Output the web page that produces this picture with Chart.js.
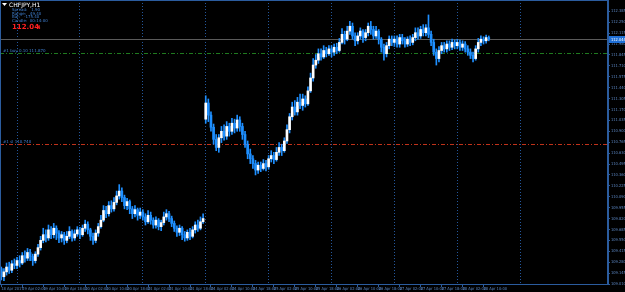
<!DOCTYPE html>
<html><head><meta charset="utf-8">
<script src="https://cdn.jsdelivr.net/npm/chart.js@4/dist/chart.umd.min.js"></script>
<style>html,body{margin:0;padding:0;background:#000;overflow:hidden}canvas{display:block}</style>
</head><body>
<canvas id="c" width="625" height="292"></canvas>
<script>
// ---- data (CHFJPY, H1) ----
const tradingDays = ['18 Apr','19 Apr','20 Apr','21 Apr','24 Apr','25 Apr','26 Apr','27 Apr','28 Apr','29 Apr','30 Apr'];
const firstHour = 18;          // first bar: 18 Apr 18:00
const slotCount = 232;         // bars + empty future area
const gridDays = 9;            // day separators drawn up to 29 Apr
const opens = [109.20,109.10,109.16,109.22,109.18,109.26,
109.24,109.30,109.27,109.36,109.33,109.40,109.35,109.30,109.38,109.46,109.55,109.62,109.58,109.68,109.62,109.70,109.64,109.58,109.62,109.55,109.60,109.66,109.58,109.63,
109.68,109.62,109.70,109.75,109.68,109.60,109.55,109.64,109.72,109.80,109.92,109.88,109.98,109.94,110.02,110.10,110.16,110.08,109.98,110.03,109.94,109.88,109.93,109.86,
109.90,109.84,109.78,109.86,109.80,109.74,109.80,109.72,109.77,109.84,109.88,109.82,109.76,109.70,109.65,109.70,109.62,109.58,109.65,109.60,109.68,109.74,109.70,109.78,
111.05,111.25,111.10,110.95,110.80,110.70,110.82,110.90,110.84,110.96,110.90,111.00,110.94,111.04,110.96,110.86,110.74,110.62,110.56,110.50,110.42,110.48,110.44,110.50,
110.46,110.56,110.60,110.55,110.64,110.70,110.66,110.78,110.92,111.08,111.20,111.14,111.26,111.22,111.30,111.24,111.40,111.56,111.72,111.78,111.86,111.82,111.90,111.86,
111.92,111.88,111.94,111.90,112.00,112.10,112.04,112.14,112.20,112.08,112.02,112.08,112.14,112.06,112.12,112.20,112.16,112.08,112.14,112.04,111.94,111.86,111.96,112.04,
112.00,112.04,111.98,112.06,112.02,111.98,112.04,112.00,112.06,112.12,112.08,112.16,112.12,112.18,112.10,112.00,111.88,111.80,111.90,111.96,111.92,111.98,111.94,112.00,
111.96,112.00,111.94,111.98,111.92,111.88,111.84,111.80,111.92,112.00,112.04,112.02,112.06];
const closes = [109.10,109.16,109.22,109.18,109.26,109.24,
109.30,109.27,109.36,109.33,109.40,109.35,109.30,109.38,109.46,109.55,109.62,109.58,109.68,109.62,109.70,109.64,109.58,109.62,109.55,109.60,109.66,109.58,109.63,109.68,
109.62,109.70,109.75,109.68,109.60,109.55,109.64,109.72,109.80,109.92,109.88,109.98,109.94,110.02,110.10,110.16,110.08,109.98,110.03,109.94,109.88,109.93,109.86,109.90,
109.84,109.78,109.86,109.80,109.74,109.80,109.72,109.77,109.84,109.88,109.82,109.76,109.70,109.65,109.70,109.62,109.58,109.65,109.60,109.68,109.74,109.70,109.78,109.82,
111.25,111.10,110.95,110.80,110.70,110.82,110.90,110.84,110.96,110.90,111.00,110.94,111.04,110.96,110.86,110.74,110.62,110.56,110.50,110.42,110.48,110.44,110.50,110.46,
110.56,110.60,110.55,110.64,110.70,110.66,110.78,110.92,111.08,111.20,111.14,111.26,111.22,111.30,111.24,111.40,111.56,111.72,111.78,111.86,111.82,111.90,111.86,111.92,
111.88,111.94,111.90,112.00,112.10,112.04,112.14,112.20,112.08,112.02,112.08,112.14,112.06,112.12,112.20,112.16,112.08,112.14,112.04,111.94,111.86,111.96,112.04,112.00,
112.04,111.98,112.06,112.02,111.98,112.04,112.00,112.06,112.12,112.08,112.16,112.12,112.18,112.10,112.00,111.88,111.80,111.90,111.96,111.92,111.98,111.94,112.00,111.96,
112.00,111.94,111.98,111.92,111.88,111.84,111.80,111.92,112.00,112.04,112.02,112.06,112.044];
const highs = [109.22,109.20,109.27,109.28,109.30,109.32,
109.34,109.36,109.40,109.42,109.45,109.44,109.38,109.41,109.50,109.60,109.70,109.68,109.74,109.72,109.76,109.73,109.67,109.66,109.65,109.66,109.72,109.68,109.68,109.72,
109.71,109.74,109.80,109.78,109.70,109.64,109.68,109.76,109.86,109.98,109.97,110.03,110.04,110.08,110.16,110.24,110.20,110.11,110.07,110.05,109.97,109.98,109.95,109.95,
109.93,109.88,109.92,109.90,109.83,109.84,109.82,109.80,109.90,109.93,109.91,109.85,109.79,109.73,109.74,109.72,109.66,109.68,109.70,109.72,109.78,109.80,109.84,109.88,
111.34,111.30,111.14,110.99,110.86,110.86,110.96,110.98,111.02,111.00,111.06,111.05,111.10,111.08,111.00,110.90,110.78,110.68,110.60,110.54,110.52,110.52,110.55,110.54,
110.60,110.66,110.64,110.70,110.76,110.74,110.82,110.98,111.12,111.26,111.28,111.32,111.36,111.36,111.34,111.45,111.62,111.80,111.85,111.92,111.92,111.96,111.94,111.96,
111.96,111.98,111.99,112.05,112.17,112.14,112.20,112.26,112.24,112.12,112.12,112.18,112.16,112.16,112.24,112.26,112.20,112.20,112.16,112.06,111.98,112.00,112.08,112.08,
112.08,112.08,112.10,112.10,112.06,112.07,112.08,112.10,112.18,112.18,112.20,112.22,112.22,112.34,112.14,112.04,111.92,111.95,112.00,112.00,112.02,112.02,112.04,112.03,
112.04,112.03,112.02,112.01,111.96,111.92,111.88,111.96,112.05,112.08,112.07,112.09,112.08];
const lows = [109.06,109.05,109.12,109.14,109.15,109.20,
109.20,109.22,109.25,109.28,109.30,109.30,109.24,109.27,109.35,109.43,109.52,109.53,109.55,109.57,109.58,109.56,109.52,109.53,109.50,109.52,109.57,109.54,109.55,109.60,
109.57,109.60,109.66,109.63,109.55,109.50,109.52,109.60,109.70,109.78,109.83,109.85,109.90,109.91,109.99,110.06,110.03,109.94,109.93,109.88,109.82,109.84,109.80,109.82,
109.80,109.74,109.76,109.75,109.70,109.70,109.68,109.67,109.74,109.80,109.78,109.72,109.66,109.60,109.61,109.56,109.54,109.55,109.56,109.58,109.64,109.66,109.68,109.76,
111.00,111.02,110.90,110.74,110.66,110.64,110.76,110.79,110.80,110.84,110.86,110.88,110.90,110.90,110.80,110.70,110.56,110.50,110.44,110.36,110.38,110.40,110.42,110.41,
110.43,110.52,110.50,110.53,110.60,110.60,110.64,110.75,110.88,111.04,111.10,111.10,111.18,111.16,111.20,111.22,111.38,111.52,111.68,111.74,111.78,111.80,111.82,111.84,
111.82,111.84,111.86,111.88,111.98,111.98,112.02,112.10,112.04,111.96,111.98,112.04,112.00,112.02,112.08,112.10,112.04,112.05,111.98,111.88,111.78,111.82,111.92,111.96,
111.95,111.94,111.94,111.98,111.94,111.95,111.96,111.97,112.02,112.04,112.05,112.08,112.08,112.06,111.96,111.84,111.72,111.76,111.86,111.88,111.88,111.90,111.91,111.92,
111.92,111.90,111.90,111.88,111.84,111.80,111.76,111.78,111.88,111.96,111.98,111.99,112.02];
const priceTicks = ['109.010','109.145','109.280','109.415','109.550','109.685','109.820','109.955','110.090','110.225','110.360','110.495','110.630','110.765','110.900','111.035','111.170','111.305','111.440','111.575','111.710','111.845','111.980','112.115','112.250','112.385'];
const currentPrice = 112.044;
const orderPrice = 111.870;
const stopPrice = 110.740;

// ---- category labels (hourly bars) ----
const slotLabels = [];
{
  let d = 0, h = firstHour;
  for (let i = 0; i < slotCount; i++) {
    slotLabels.push({day: tradingDays[d], dayIndex: d, hour: h});
    h++; if (h === 24) { h = 0; d++; }
  }
}
const pad = n => (n < 10 ? '0' : '') + n;
function tickText(i) {
  if (i % 8 !== 0 || i >= opens.length) return '';
  const s = slotLabels[i];
  if (i === 0) return s.day + ' 2017';
  return s.day + ' ' + pad(s.hour) + ':00';
}

const AX = '#2b5c9e', TXT = '#5b86c2', UP = '#ffffff', DN = '#1e8fff', WICK = '#1e8fff';
const FONT = {family: 'DejaVu Sans Condensed, DejaVu Sans', size: 4};

const overlay = {
  id: 'overlay',
  beforeDatasetsDraw(chart) {
    const {ctx, chartArea: a, scales: {y}} = chart;
    ctx.save();
    let py = Math.round(y.getPixelForValue(currentPrice)) + 0.5;
    ctx.strokeStyle = '#5a5a5a'; ctx.lineWidth = 1; ctx.setLineDash([]);
    ctx.beginPath(); ctx.moveTo(a.left, py); ctx.lineTo(a.right, py); ctx.stroke();
    const dd = [4,2,1,2];
    py = Math.round(y.getPixelForValue(orderPrice)) + 0.5;
    ctx.strokeStyle = '#1f7a1f'; ctx.setLineDash(dd);
    ctx.beginPath(); ctx.moveTo(a.left, py); ctx.lineTo(a.right, py); ctx.stroke();
    ctx.setLineDash([]); ctx.fillStyle = '#3f7fd0'; ctx.font = '4px DejaVu Sans'; ctx.textBaseline = 'bottom';
    ctx.fillText('#1 buy 0.10 111.870', 3, py - 1);
    py = Math.round(y.getPixelForValue(stopPrice)) + 0.5;
    ctx.strokeStyle = '#c0321a'; ctx.setLineDash(dd);
    ctx.beginPath(); ctx.moveTo(a.left, py); ctx.lineTo(a.right, py); ctx.stroke();
    ctx.setLineDash([]);
    ctx.fillText('#1 sl 110.740', 3, py - 1);
    ctx.restore();
  },
  afterDraw(chart) {
    const {ctx, chartArea: a, scales: {y}} = chart;
    ctx.save();
    ctx.strokeStyle = AX; ctx.lineWidth = 1;
    ctx.strokeRect(a.left + 0.5, a.top + 0.5, a.right - a.left - 1, a.bottom - a.top);
    const py = Math.round(y.getPixelForValue(currentPrice));
    ctx.fillStyle = '#1f6fd6';
    ctx.fillRect(a.right + 1, py - 3, 624 - a.right, 7);
    ctx.fillStyle = '#ffffff'; ctx.font = '4px DejaVu Sans Condensed, DejaVu Sans'; ctx.textBaseline = 'middle';
    ctx.fillText(currentPrice.toFixed(3), a.right + 3, py + 0.5);
    ctx.fillStyle = '#ffffff';
    ctx.beginPath(); ctx.moveTo(2, 3); ctx.lineTo(7, 3); ctx.lineTo(4.5, 6); ctx.closePath(); ctx.fill();
    ctx.font = '6px DejaVu Sans'; ctx.textBaseline = 'middle';
    ctx.fillText('CHFJPY,H1', 9, 5);
    ctx.fillStyle = '#3f7fd0'; ctx.font = '4px DejaVu Sans';
    ctx.fillText('Spread:   1.90', 12, 10);
    ctx.fillText('Range:   49.40', 12, 13.5);
    ctx.fillText('Bar:   -175.40', 12, 17);
    ctx.fillText('Candle:  00:14:00', 12, 20.5);
    ctx.fillStyle = '#ff2020'; ctx.font = 'bold 7px DejaVu Sans';
    ctx.fillText('112.04', 12, 27);
    ctx.font = 'bold 5px DejaVu Sans';
    ctx.fillText('4', 37, 28);
    ctx.restore();
  }
};

new Chart(document.getElementById('c'), {
  type: 'bar',
  data: {
    labels: slotLabels.map((s, i) => i),
    datasets: [
      {
        label: 'wick', order: 2, grouped: false,
        data: lows.map((l, i) => [l, highs[i]]),
        backgroundColor: WICK, barThickness: 1, borderWidth: 0
      },
      {
        label: 'body', order: 1, grouped: false,
        data: opens.map((o, i) => [o, closes[i]]),
        backgroundColor: c => (closes[c.dataIndex] >= opens[c.dataIndex] ? UP : DN),
        barThickness: 2, minBarLength: 1, borderWidth: 0
      }
    ]
  },
  options: {
    responsive: false, animation: false, devicePixelRatio: 1,
    layout: {padding: 0},
    plugins: {legend: {display: false}, tooltip: {enabled: false}},
    scales: {
      x: {
        type: 'category', offset: true,
        grid: {
          offset: false, drawOnChartArea: true, drawTicks: true, tickLength: 3,
          color: c => {
            const s = slotLabels[c.index];
            return s && s.hour === 0 && s.dayIndex <= gridDays ? '#24579c' : 'rgba(0,0,0,0)';
          },
          tickColor: c => (tickText(c.index) ? AX : 'rgba(0,0,0,0)'),
          lineWidth: 1
        },
        border: {color: AX, width: 1, dash: [1, 2]},
        ticks: {
          autoSkip: false, maxRotation: 0, minRotation: 0, align: 'start', padding: 0,
          color: TXT, font: FONT,
          callback: (v, i) => tickText(i)
        },
        afterFit: s => { s.height = 8; s.paddingLeft = 0; s.paddingRight = 0; }
      },
      y: {
        position: 'right', min: 109.01, max: 112.525,
        afterBuildTicks: s => { s.ticks = priceTicks.map(t => ({value: parseFloat(t)})); },
        grid: {drawOnChartArea: false, drawTicks: true, tickLength: 2, color: AX},
        border: {color: AX, width: 1},
        ticks: {color: TXT, font: FONT, padding: 1, callback: v => Number(v).toFixed(3)},
        afterFit: s => { s.width = 17; s.paddingTop = 0; s.paddingBottom = 0; }
      }
    }
  },
  plugins: [overlay]
});
</script>
</body></html>
